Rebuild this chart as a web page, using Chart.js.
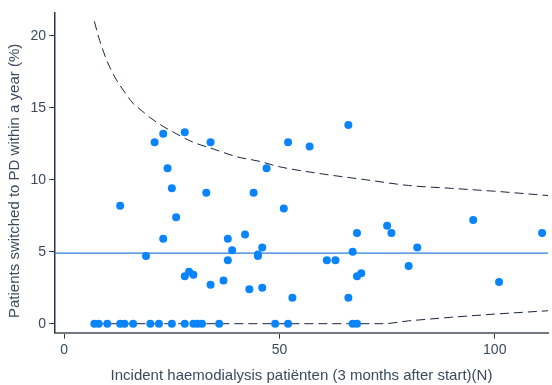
<!DOCTYPE html>
<html>
<head>
<meta charset="utf-8">
<script src="https://cdn.jsdelivr.net/npm/chart.js@4.4.1/dist/chart.umd.min.js"></script>
<style>
  html, body { margin: 0; padding: 0; background: #ffffff; }
  #wrap { width: 552px; height: 385px; }
</style>
</head>
<body>
<div id="wrap"><canvas id="funnel" width="552" height="385"></canvas></div>
<script>
// Per hospital: incident HD patients (3 months after start) and % switched to PD within a year
const hdPatients = [
  7, 8, 10, 13, 14, 16, 20, 22, 25, 28, 30, 31, 32, 36, 49, 52, 67, 68,
  13, 19, 21, 23, 23, 24, 25, 26, 28, 28, 29, 30, 33, 34, 34, 37, 38, 38, 39, 42, 43,
  44, 45, 45, 46, 46, 47, 51, 52, 53, 57, 61, 63, 66, 66, 67, 68, 68, 69, 75, 76, 80,
  82, 95, 101, 111
];
const pdSwitchPct = [
  0, 0, 0, 0, 0, 0, 0, 0, 0, 0, 0, 0, 0, 0, 0, 0, 0, 0,
  8.2, 4.7, 12.6, 13.2, 5.9, 10.8, 9.4, 7.4, 13.3, 3.3, 3.6, 3.4, 9.1, 12.6, 2.7, 3.0, 5.9, 4.4, 5.1, 6.2, 2.4,
  9.1, 4.8, 4.7, 5.3, 2.5, 10.8, 8.0, 12.6, 1.8, 12.3, 4.4, 4.4, 13.8, 1.8, 5.0, 6.3, 3.3, 3.5, 6.8, 6.3, 4.0,
  5.3, 7.2, 2.9, 6.3
];

// Overall switch rate and its 95% control limits
const overallPct = 4.9;
const upperN     = [7, 8, 9, 10, 12, 14, 16, 18, 20, 23, 26, 30, 35, 40, 45, 50, 60, 70, 80, 90, 100, 112.4];
const upperLimit = [21.0, 19.9, 19.0, 18.2, 17.0, 16.1, 15.3, 14.8, 14.3, 13.7, 13.2, 12.6, 12.1, 11.6, 11.3, 10.9, 10.4, 10.0, 9.6, 9.4, 9.2, 8.9];
const lowerN     = [7, 75, 80, 90, 100, 112.4];
const lowerLimit = [0, 0, 0.2, 0.45, 0.67, 0.9];

// Axis ticks and ranges
const xTicks = [0, 50, 100];
const yTicks = [0, 5, 10, 15, 20];
const xRange = [-2.14, 112.37];
const yRange = [-0.625, 21.58];

const xTitle = 'Incident haemodialysis patiënten (3 months after start)(N)';
const yTitle = 'Patients switched to PD within a year (%)';

const inkText  = '#3b4a5f';
const inkLimit = '#1d2440';
const fontFamily = "'Liberation Sans', Arial, sans-serif";
const tickFont  = { family: fontFamily, size: 14 };
const titleFont = { family: fontFamily, size: 15 };

const toXY = (xs, ys) => xs.map((x, i) => ({ x: x, y: ys[i] }));

// Vertical axis title, set a little below the plot's middle
const yTitlePlugin = {
  id: 'yTitle',
  afterDraw(chart) {
    const ctx = chart.ctx;
    const area = chart.chartArea;
    ctx.save();
    ctx.translate(15, (area.top + area.bottom) / 2 + 8);
    ctx.rotate(-Math.PI / 2);
    ctx.font = titleFont.size + 'px ' + fontFamily;
    ctx.fillStyle = inkText;
    ctx.textAlign = 'center';
    ctx.textBaseline = 'middle';
    ctx.fillText(yTitle, 0, 0);
    ctx.restore();
  }
};

new Chart(document.getElementById('funnel'), {
  type: 'scatter',
  data: {
    datasets: [
      {
        label: 'Ziekenhuizen',
        data: toXY(hdPatients, pdSwitchPct),
        backgroundColor: '#0a84fb',
        borderWidth: 0,
        pointRadius: 4,
        order: 0
      },
      {
        type: 'line',
        label: 'Bovengrens',
        data: toXY(upperN, upperLimit),
        borderColor: inkLimit,
        borderWidth: 1,
        borderDash: [9, 5],
        pointRadius: 0,
        cubicInterpolationMode: 'monotone',
        fill: false,
        order: 1
      },
      {
        type: 'line',
        label: 'Ondergrens',
        data: toXY(lowerN, lowerLimit),
        borderColor: inkLimit,
        borderWidth: 1,
        borderDash: [9, 5],
        pointRadius: 0,
        tension: 0,
        fill: false,
        order: 1
      },
      {
        type: 'line',
        label: 'Gemiddelde',
        data: xRange.map(x => ({ x: x, y: overallPct })),
        borderColor: '#2a80d8',
        borderWidth: 1.3,
        pointRadius: 0,
        fill: false,
        order: 2
      }
    ]
  },
  options: {
    responsive: false,
    animation: false,
    devicePixelRatio: 1,
    layout: { padding: { top: 13, left: 0, right: 0, bottom: 0 } },
    plugins: { legend: { display: false }, tooltip: { enabled: false } },
    scales: {
      x: {
        type: 'linear',
        min: xRange[0],
        max: xRange[1],
        afterBuildTicks: s => { s.ticks = xTicks.map(v => ({ value: v })); },
        afterFit: s => { s.height = 52.3; },
        grid: { drawOnChartArea: false, drawTicks: true, tickLength: 6, tickColor: '#2d3448', tickWidth: 1 },
        border: { display: true, color: '#74787f', width: 2 },
        ticks: { font: tickFont, color: inkText, padding: 3 },
        title: {
          display: true,
          text: xTitle,
          font: titleFont,
          color: inkText,
          padding: { top: 0, bottom: 0 }
        }
      },
      y: {
        type: 'linear',
        min: yRange[0],
        max: yRange[1],
        afterBuildTicks: s => { s.ticks = yTicks.map(v => ({ value: v })); },
        afterFit: s => { s.width = 55; },
        grid: { drawOnChartArea: false, drawTicks: true, tickLength: 6, tickColor: '#2d3448', tickWidth: 1 },
        border: { display: true, color: '#2d3448', width: 1.5 },
        ticks: { font: tickFont, color: inkText, padding: 3 },
        title: { display: false }
      }
    }
  },
  plugins: [yTitlePlugin]
});
</script>
</body>
</html>
